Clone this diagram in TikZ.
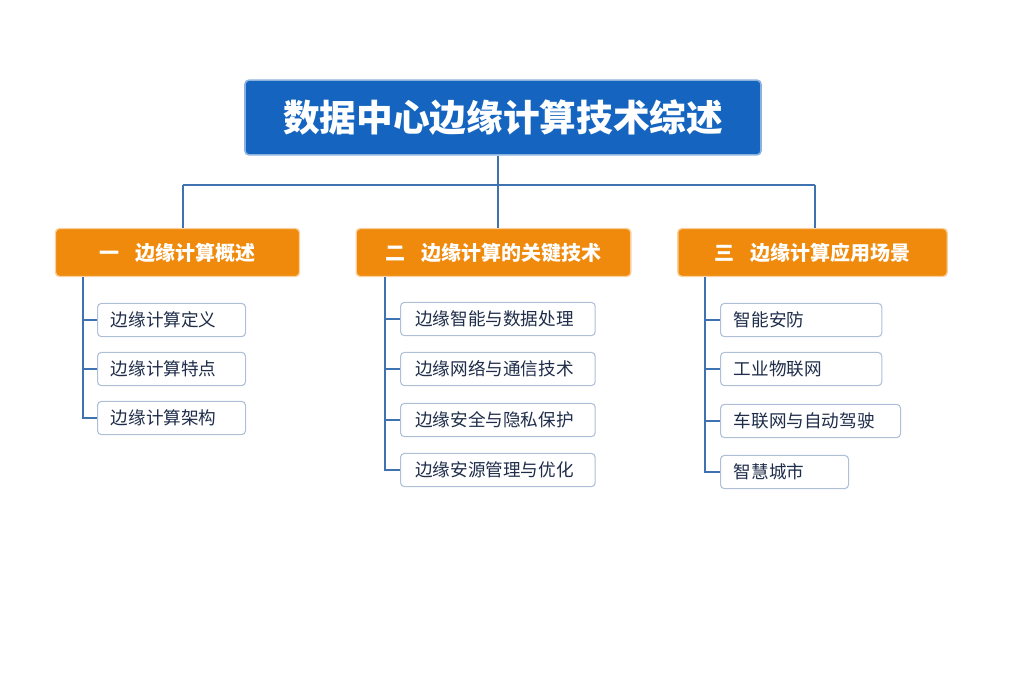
\documentclass[tikz,border=0pt]{standalone}
\usepackage{fontspec}
\newfontfamily\cjk{Noto Sans CJK SC}
\definecolor{tblue}{HTML}{1565C0}
\definecolor{torange}{HTML}{EF8A0C}
\definecolor{lineblue}{HTML}{3F72B0}
\definecolor{itemborder}{HTML}{AFC0D6}
\definecolor{itemtext}{HTML}{1F2D4A}
\tikzset{
  titlebox/.style={fill=tblue, rounded corners=3pt, text=white, font=\cjk\bfseries\fontsize{27.5}{32}\selectfont, minimum width=387pt, minimum height=56pt, inner sep=0pt},
  headbox/.style={fill=torange, rounded corners=3pt, text=white, font=\cjk\bfseries\fontsize{15}{18}\selectfont, minimum height=36pt, inner sep=0pt},
  itembox/.style={draw=itemborder, line width=0.8pt, fill=white, rounded corners=3pt, text=itemtext, font=\cjk\fontsize{13.2}{15}\selectfont, minimum height=25pt, anchor=west, align=left, inner sep=0pt},
  conn/.style={draw=lineblue, line width=1.2pt}
}
\begin{document}
\begin{tikzpicture}[x=0.75pt,y=-0.75pt]
\useasboundingbox (0,0) rectangle (1024,683);
\node[titlebox, draw=tblue!50, line width=1.2pt] (title) at (503,117.5) {数据中心边缘计算技术综述};
\node[headbox, minimum width=183pt, draw=torange!40, line width=1pt] (h1) at (177.5,252.5) {一\hspace{0.8em}边缘计算概述};
\node[headbox, minimum width=206pt, draw=torange!40, line width=1pt] (h2) at (493.5,252.5) {二\hspace{0.8em}边缘计算的关键技术};
\node[headbox, minimum width=202pt, draw=torange!40, line width=1pt] (h3) at (812.5,252.5) {三\hspace{0.8em}边缘计算应用场景};
\coordinate (b0) at (498,185);
\coordinate (b1) at (183,185);
\coordinate (b2) at (498,185);
\coordinate (b3) at (815,185);
\draw[conn] (title.south -| b0) -- (b0);
\draw[conn] (b1) -- (b3);
\draw[conn] (b1) -- (b1 |- h1.north);
\draw[conn] (b2) -- (b2 |- h2.north);
\draw[conn] (b3) -- (b3 |- h3.north);
% column 1
\node[itembox, minimum width=111pt, text width=111pt] (a1) at (97,320) {\hspace{10pt}边缘计算定义};
\node[itembox, minimum width=111pt, text width=111pt] (a2) at (97,369) {\hspace{10pt}边缘计算特点};
\node[itembox, minimum width=111pt, text width=111pt] (a3) at (97,418) {\hspace{10pt}边缘计算架构};
\coordinate (s1) at (83,0);
\draw[conn] (s1 |- h1.south) -- (s1 |- a3.west) -- (a3.west);
\draw[conn] (s1 |- a1.west) -- (a1.west);
\draw[conn] (s1 |- a2.west) -- (a2.west);
% column 2
\node[itembox, minimum width=146pt, text width=146pt] (c1) at (400,319) {\hspace{11pt}边缘智能与数据处理};
\node[itembox, minimum width=146pt, text width=146pt] (c2) at (400,369) {\hspace{11pt}边缘网络与通信技术};
\node[itembox, minimum width=146pt, text width=146pt] (c3) at (400,420) {\hspace{11pt}边缘安全与隐私保护};
\node[itembox, minimum width=146pt, text width=146pt] (c4) at (400,470) {\hspace{11pt}边缘安源管理与优化};
\coordinate (s2) at (385,0);
\draw[conn] (s2 |- h2.south) -- (s2 |- c4.west) -- (c4.west);
\draw[conn] (s2 |- c1.west) -- (c1.west);
\draw[conn] (s2 |- c2.west) -- (c2.west);
\draw[conn] (s2 |- c3.west) -- (c3.west);
% column 3
\node[itembox, minimum width=121pt, text width=121pt] (d1) at (720,320) {\hspace{10pt}智能安防};
\node[itembox, minimum width=121pt, text width=121pt] (d2) at (720,369) {\hspace{10pt}工业物联网};
\node[itembox, minimum width=135pt, text width=135pt] (d3) at (720,421) {\hspace{10pt}车联网与自动驾驶};
\node[itembox, minimum width=96pt, text width=96pt] (d4) at (720,472) {\hspace{10pt}智慧城市};
\coordinate (s3) at (705,0);
\draw[conn] (s3 |- h3.south) -- (s3 |- d4.west) -- (d4.west);
\draw[conn] (s3 |- d1.west) -- (d1.west);
\draw[conn] (s3 |- d2.west) -- (d2.west);
\draw[conn] (s3 |- d3.west) -- (d3.west);
\end{tikzpicture}
\end{document}
